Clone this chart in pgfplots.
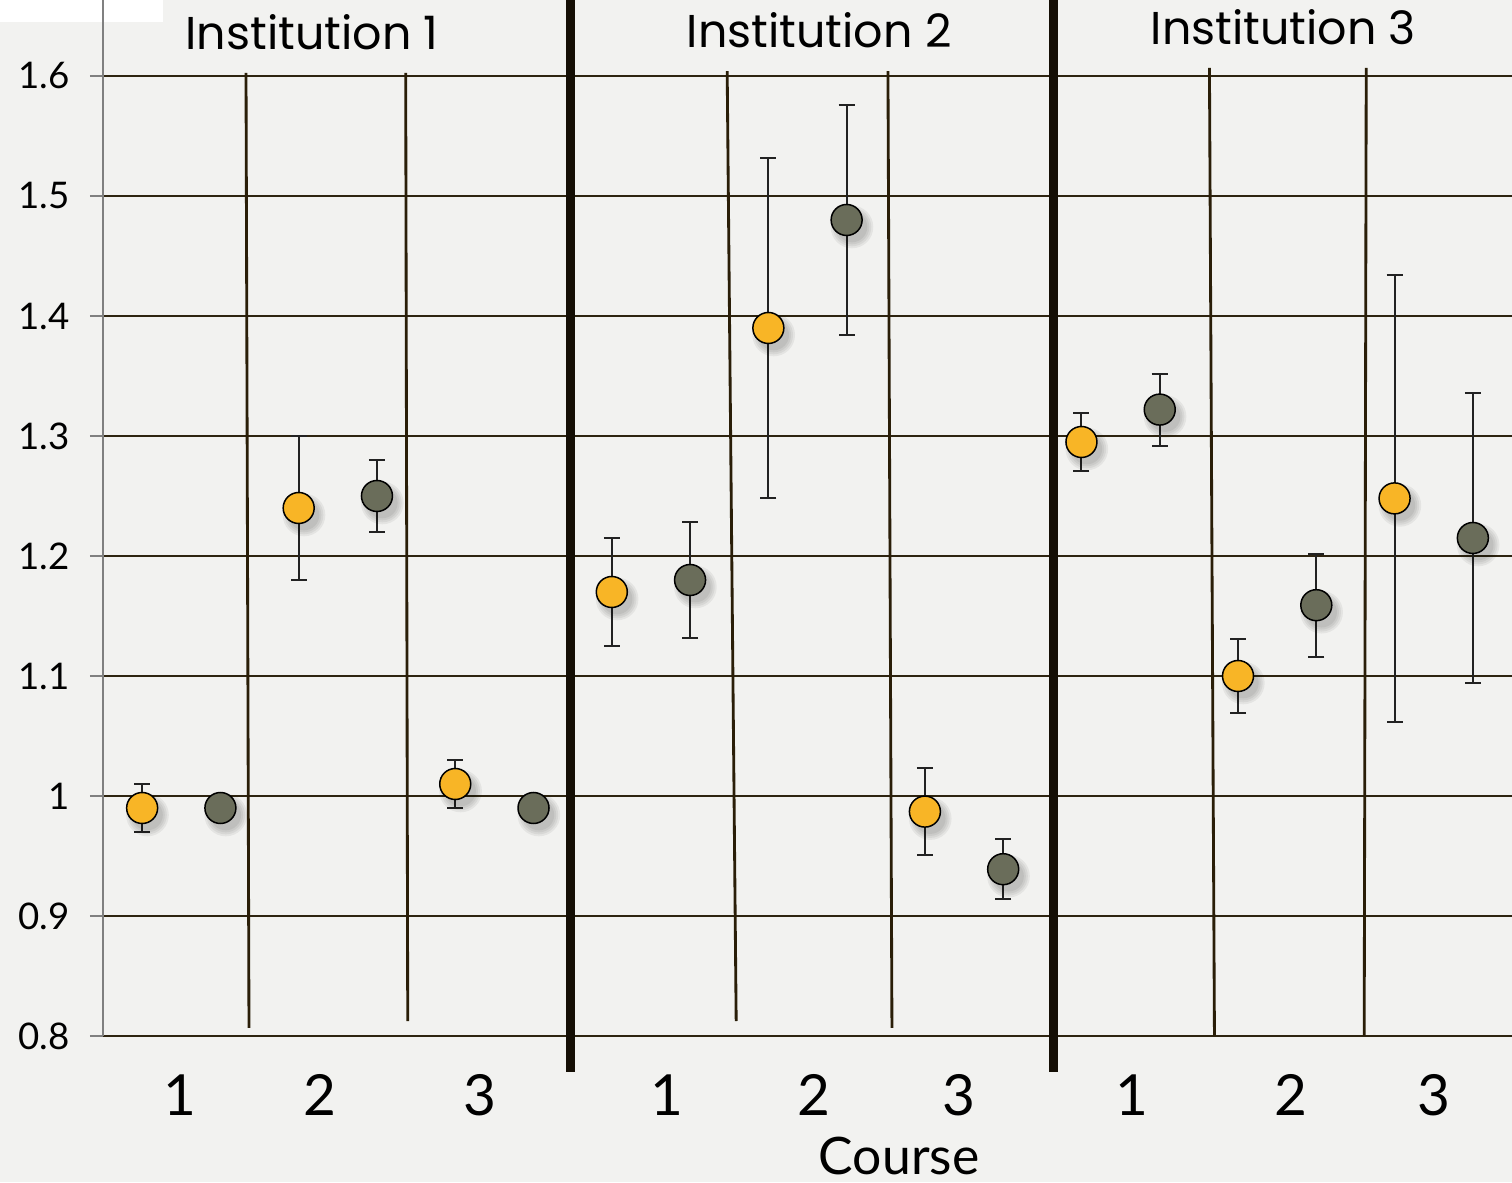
\documentclass[border=0pt]{standalone}
\usepackage{fontspec}
\usepackage{pgfplots}
\pgfplotsset{compat=1.18}
\usepackage{pgfplotstable}
\usetikzlibrary{backgrounds}
\setmainfont{Lato}
\newfontfamily\titlefont{Poppins}
\definecolor{bgc}{HTML}{F2F2F0}
\definecolor{gridc}{HTML}{2E2410}
\definecolor{sepc}{HTML}{2A1E08}
\definecolor{thickc}{HTML}{150F05}
\definecolor{orangec}{HTML}{F8B526}
\definecolor{grayc}{HTML}{6A6D5A}
\definecolor{errc}{HTML}{222222}

\pgfplotstableread{
x y e
0 0.99 0.02
2 1.24 0.06
4 1.01 0.02
6 1.17 0.045
8 1.39 0.142
10 0.987 0.036
12 1.295 0.024
14 1.10 0.031
16 1.248 0.186
}\orangedata
\pgfplotstableread{
x y e
1 0.99 0
3 1.25 0.03
5 0.99 0
7 1.18 0.048
9 1.48 0.096
11 0.939 0.025
13 1.322 0.03
15 1.159 0.043
17 1.215 0.121
}\graydata

\pgfplotsset{
  shadowplot/.style={only marks, mark=*, black, mark size=#1,
    mark options={draw opacity=0, fill=black, fill opacity=0.055, line width=0pt},
    xshift=1.6pt, yshift=-2.1pt},
}

\begin{document}
\begin{tikzpicture}
\begin{axis}[
  name=ax,
  scale only axis,
  width=422.7pt, height=310.8pt,
  xmin=-0.5, xmax=17.5,
  ymin=0.8, ymax=1.6633,
  clip=false,
  axis lines=left,
  axis line style={-},
  x axis line style={draw=gridc, line width=0.6pt},
  y axis line style={draw=gray, line width=0.8pt},
  ytick={0.8,0.9,1.0,1.1,1.2,1.3,1.4,1.5,1.6},
  ymajorgrids,
  major grid style={draw=gridc, line width=0.6pt},
  y tick style={draw=gray, line width=0.6pt},
  tick align=outside,
  major tick length=3.9pt,
  yticklabel style={/pgf/number format/assume math mode=true, font=\fontsize{11}{11}\selectfont, xshift=-2.5pt},
  xtick={0.48,2.27,4.31,6.7,8.58,10.43,12.64,14.67,16.5},
  xticklabels={1,2,3,1,2,3,1,2,3},
  x tick style={draw=none},
  xticklabel style={font=\fontsize{17}{17}\selectfont, anchor=center, yshift=-13.8pt},
]
% course separators (thin)
\addplot[sepc, line width=0.85pt] coordinates {(1.327,1.6025) (1.365,0.8067)};
\addplot[sepc, line width=0.85pt] coordinates {(3.367,1.6025) (3.393,0.8125)};
\addplot[sepc, line width=0.85pt] coordinates {(7.474,1.604) (7.589,0.8125)};
\addplot[sepc, line width=0.85pt] coordinates {(9.528,1.604) (9.579,0.8067)};
\addplot[sepc, line width=0.85pt] coordinates {(13.635,1.6067) (13.699,0.8)};
\addplot[sepc, line width=0.85pt] coordinates {(15.638,1.6067) (15.612,0.8)};
% institution separators (thick)
\addplot[thickc, line width=2.7pt] coordinates {(5.472,1.6633) (5.472,0.77)};
\addplot[thickc, line width=2.7pt] coordinates {(11.645,1.6633) (11.645,0.77)};
% shadows
\addplot[shadowplot=6.4pt] table[x=x,y=y] {\orangedata};
\addplot[shadowplot=5.8pt] table[x=x,y=y] {\orangedata};
\addplot[shadowplot=5.2pt] table[x=x,y=y] {\orangedata};
\addplot[shadowplot=4.6pt] table[x=x,y=y] {\orangedata};
\addplot[shadowplot=6.4pt] table[x=x,y=y] {\graydata};
\addplot[shadowplot=5.8pt] table[x=x,y=y] {\graydata};
\addplot[shadowplot=5.2pt] table[x=x,y=y] {\graydata};
\addplot[shadowplot=4.6pt] table[x=x,y=y] {\graydata};
% data
\addplot[only marks, mark=*, mark size=4.65pt, mark options={draw=black, fill=orangec, line width=0.45pt},
  error bars/.cd, y dir=both, y explicit,
  error bar style={draw=errc, line width=0.6pt},
  error mark options={rotate=90, mark size=2.4pt, draw=errc, line width=0.6pt}]
  table[x=x,y=y,y error=e] {\orangedata};
\addplot[only marks, mark=*, mark size=4.65pt, mark options={draw=black, fill=grayc, line width=0.45pt},
  error bars/.cd, y dir=both, y explicit,
  error bar style={draw=errc, line width=0.6pt},
  error mark options={rotate=90, mark size=2.4pt, draw=errc, line width=0.6pt}]
  table[x=x,y=y,y error=e] {\graydata};
% titles
\node[font=\titlefont\fontsize{13.8}{13.8}\selectfont] at (axis cs:2.17,1.6367) {Institution 1};
\node[font=\titlefont\fontsize{13.8}{13.8}\selectfont] at (axis cs:8.65,1.6383) {Institution 2};
\node[font=\titlefont\fontsize{13.8}{13.8}\selectfont] at (axis cs:14.58,1.641) {Institution 3};
\node[font=\fontsize{15.5}{15.5}\selectfont, anchor=base] at (axis cs:9.67,0.685) {Course};
\end{axis}
\begin{scope}[on background layer]
\fill[bgc] ([shift={(-30.9pt,-43.8pt)}]ax.south west) rectangle ([shift={(422.7pt,310.8pt)}]ax.south west);
\fill[white] ([shift={(-30.9pt,304.2pt)}]ax.south west) rectangle ([shift={(18pt,310.8pt)}]ax.south west);
\end{scope}
\pgfresetboundingbox
\useasboundingbox ([shift={(-30.9pt,-43.8pt)}]ax.south west) rectangle ([shift={(422.7pt,310.8pt)}]ax.south west);
\end{tikzpicture}
\end{document}
